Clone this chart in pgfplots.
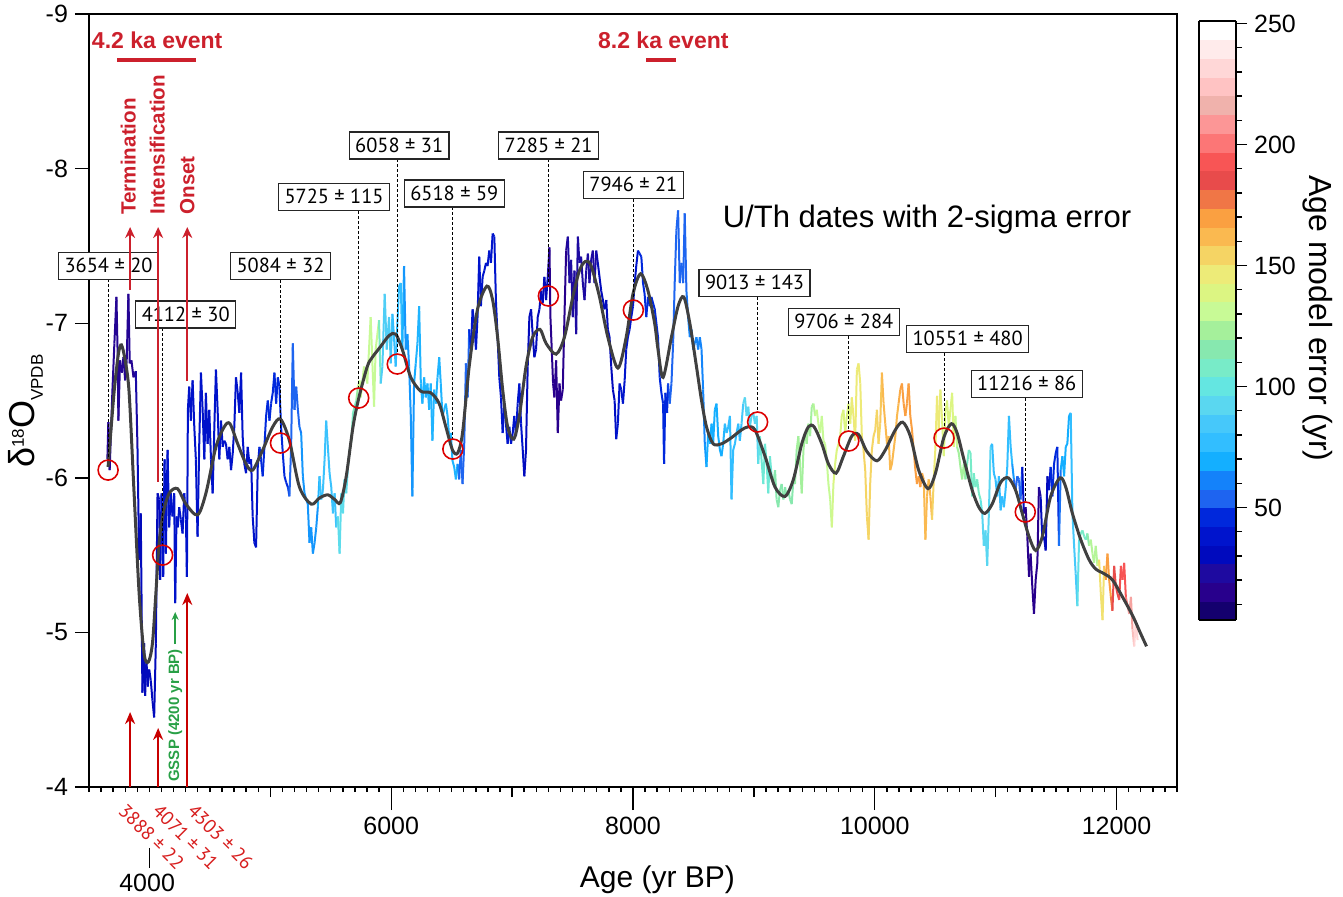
\documentclass[border=0pt]{standalone}
\usepackage{fontspec}
\setmainfont{Liberation Sans}
\newfontfamily\ptsans{PT Sans}
\usepackage{pgfplots}
\pgfplotsset{compat=1.18}
\usetikzlibrary{arrows.meta}

\definecolor{evred}{RGB}{204,32,44}
\definecolor{arrred}{RGB}{200,0,0}
\definecolor{lblred}{RGB}{215,30,30}
\definecolor{circred}{RGB}{220,0,0}
\definecolor{gsspgreen}{RGB}{40,160,70}
\definecolor{smoothgray}{RGB}{64,64,64}

\newcommand\tickfont{\fontsize{12.5}{15}\selectfont}

% age model error colormap, one colour per band of the colour bar
\pgfplotsset{
  colormap={agemodel}{
    rgb255(0cm)=(20,0,110)
    rgb255(0.5cm)=(20,0,110)
    rgb255(1.5cm)=(40,0,140)
    rgb255(2.5cm)=(30,10,160)
    rgb255(3.5cm)=(0,10,190)
    rgb255(4.5cm)=(0,20,205)
    rgb255(5.5cm)=(0,40,220)
    rgb255(6.5cm)=(30,100,240)
    rgb255(7.5cm)=(20,130,250)
    rgb255(8.5cm)=(20,175,255)
    rgb255(9.5cm)=(50,190,255)
    rgb255(10.5cm)=(70,200,250)
    rgb255(11.5cm)=(90,215,240)
    rgb255(12.5cm)=(100,230,225)
    rgb255(13.5cm)=(120,235,200)
    rgb255(14.5cm)=(135,232,175)
    rgb255(15.5cm)=(165,240,155)
    rgb255(16.5cm)=(200,250,150)
    rgb255(17.5cm)=(220,245,130)
    rgb255(18.5cm)=(237,235,120)
    rgb255(19.5cm)=(245,212,100)
    rgb255(20.5cm)=(250,185,80)
    rgb255(21.5cm)=(250,160,65)
    rgb255(22.5cm)=(240,118,70)
    rgb255(23.5cm)=(232,75,75)
    rgb255(24.5cm)=(248,85,85)
    rgb255(25.5cm)=(252,118,118)
    rgb255(26.5cm)=(252,150,150)
    rgb255(27.5cm)=(240,178,172)
    rgb255(28.5cm)=(255,195,195)
    rgb255(29.5cm)=(255,215,215)
    rgb255(30.5cm)=(255,235,235)
    rgb255(31.5cm)=(255,255,255)
    rgb255(32cm)=(255,255,255)
  }
}

\pgfplotstableread{
x y e
3652 -6.12 18
3660 -6.36 18
3671 -6.05 18
3693 -6.55 18
3710 -6.87 18
3727 -7.17 18
3738 -6.76 18
3743 -6.37 18
3757 -6.76 18
3771 -6.68 18
3785 -6.78 18
3799 -6.63 18
3812 -6.76 18
3826 -7.19 18
3837 -6.74 18
3851 -6.76 18
3868 -6.65 18
3887 -6.69 18
3901 -6.20 30
3915 -5.47 30
3928 -5.77 30
3942 -4.61 30
3956 -4.93 30
3964 -4.59 30
3975 -4.82 30
3986 -4.65 30
3998 -4.76 30
4011 -4.69 30
4025 -4.56 30
4039 -4.45 30
4053 -4.93 30
4067 -5.90 30
4080 -5.86 30
4089 -5.34 30
4100 -5.90 37
4114 -5.36 37
4125 -6.12 37
4136 -5.51 37
4150 -6.18 37
4163 -5.68 37
4177 -5.90 37
4191 -5.75 37
4205 -5.90 37
4213 -5.19 37
4224 -5.75 37
4235 -5.68 37
4246 -5.81 37
4260 -5.73 37
4274 -5.64 37
4288 -5.90 37
4302 -5.73 37
4310 -5.36 37
4318 -6.44 37
4329 -6.59 37
4343 -6.37 37
4357 -6.63 37
4371 -6.33 37
4384 -6.12 37
4398 -5.62 37
4412 -6.22 37
4426 -6.68 37
4440 -6.44 37
4454 -6.12 37
4467 -6.55 37
4481 -6.22 37
4495 -6.44 37
4509 -6.12 37
4523 -5.90 37
4537 -6.33 37
4550 -6.70 37
4564 -6.44 37
4578 -6.12 37
4592 -6.37 37
4606 -6.20 37
4619 -6.24 37
4633 -6.22 37
4647 -6.12 37
4661 -6.20 37
4675 -6.05 37
4689 -6.16 37
4702 -6.33 37
4716 -6.65 37
4730 -6.55 37
4744 -6.42 37
4758 -6.68 37
4771 -6.27 37
4785 -6.09 37
4799 -6.03 37
4813 -6.20 37
4827 -6.09 37
4841 -6.12 37
4854 -5.75 37
4868 -5.58 37
4882 -5.55 37
4896 -6.07 37
4910 -6.20 46
4923 -6.12 46
4937 -6.01 46
4951 -6.20 46
4965 -6.40 46
4979 -6.50 46
4993 -6.37 46
5006 -6.48 46
5020 -6.55 46
5034 -6.68 46
5048 -6.48 46
5062 -6.65 46
5075 -6.59 46
5089 -6.33 46
5103 -6.16 46
5117 -6.01 46
5131 -5.97 46
5145 -5.94 46
5158 -5.88 54
5172 -6.20 54
5186 -6.87 54
5200 -6.44 54
5214 -6.59 54
5228 -6.44 54
5241 -6.33 54
5255 -6.29 65
5269 -6.01 65
5283 -5.90 65
5297 -5.86 65
5310 -5.83 65
5324 -5.58 65
5338 -5.68 65
5352 -5.51 65
5366 -5.58 65
5380 -5.68 65
5393 -5.81 65
5407 -6.01 80
5421 -5.86 80
5435 -5.92 80
5449 -6.12 80
5462 -6.37 80
5476 -6.20 80
5490 -6.03 80
5504 -5.94 80
5518 -5.77 80
5532 -5.90 80
5545 -5.68 80
5559 -5.75 95
5573 -5.51 95
5587 -5.90 95
5601 -5.77 95
5614 -5.99 95
5628 -5.90 95
5642 -6.07 95
5656 -6.18 110
5670 -6.24 110
5684 -6.42 110
5711 -6.50 110
5725 -6.59 131
5739 -6.63 131
5747 -6.52 131
5775 -6.72 131
5802 -6.61 131
5830 -7.04 131
5858 -6.46 131
5871 -6.83 131
5899 -7.02 131
5913 -6.61 88
5927 -6.72 88
5946 -7.19 88
5963 -6.83 88
5982 -7.04 88
5996 -6.74 88
6010 -7.06 77
6023 -6.91 77
6037 -6.72 77
6051 -7.00 77
6065 -7.24 77
6079 -7.26 77
6092 -6.83 77
6106 -7.37 65
6120 -6.83 65
6134 -6.93 65
6148 -6.72 65
6162 -6.40 65
6175 -5.88 65
6189 -6.61 65
6203 -6.74 72
6217 -6.87 72
6231 -7.11 72
6245 -6.61 72
6258 -6.48 72
6272 -6.65 72
6286 -6.52 72
6300 -6.61 72
6314 -6.44 72
6327 -6.61 72
6341 -6.24 72
6355 -6.57 72
6369 -6.48 72
6383 -6.65 72
6397 -6.78 72
6410 -6.61 72
6424 -6.40 72
6438 -6.44 72
6452 -6.48 72
6466 -6.40 72
6479 -6.27 72
6493 -6.29 72
6507 -6.11 72
6521 -6.07 72
6535 -5.99 72
6549 -6.09 72
6562 -5.99 54
6576 -6.18 54
6590 -5.96 54
6604 -6.22 54
6618 -6.74 54
6632 -6.52 54
6645 -6.96 54
6659 -6.83 38
6673 -7.09 38
6687 -7.00 38
6701 -6.83 38
6714 -7.04 38
6728 -7.43 38
6742 -7.11 38
6756 -7.30 38
6770 -7.34 38
6784 -7.39 38
6797 -7.37 38
6811 -7.47 38
6825 -7.39 38
6839 -7.58 38
6853 -7.56 38
6866 -7.15 38
6880 -6.91 38
6894 -6.65 38
6908 -6.52 38
6922 -6.29 38
6936 -6.48 38
6949 -6.35 38
6963 -6.22 38
6977 -6.33 38
6991 -6.22 38
7005 -6.29 38
7018 -6.40 38
7032 -6.27 38
7046 -6.48 38
7060 -6.61 38
7074 -6.35 38
7088 -6.18 38
7101 -6.01 30
7115 -6.18 30
7129 -6.72 30
7143 -7.04 30
7157 -7.09 30
7170 -6.93 30
7184 -6.78 30
7198 -6.83 30
7212 -7.04 30
7226 -7.09 30
7240 -7.21 30
7253 -7.13 30
7267 -7.30 30
7281 -7.15 30
7295 -7.30 30
7309 -7.49 15
7317 -7.04 15
7328 -6.83 15
7339 -6.61 15
7350 -6.52 15
7364 -6.76 15
7378 -6.29 15
7392 -6.61 15
7405 -6.50 15
7419 -6.57 15
7433 -7.04 15
7447 -7.47 15
7461 -7.56 23
7475 -7.26 23
7488 -7.41 23
7502 -7.04 23
7516 -7.34 23
7530 -6.93 23
7544 -7.56 23
7557 -7.39 23
7571 -7.43 23
7585 -7.26 23
7599 -7.15 23
7613 -7.34 23
7627 -7.45 23
7640 -7.26 23
7654 -7.41 23
7668 -7.47 23
7682 -7.26 23
7696 -7.47 23
7709 -7.39 30
7723 -7.30 30
7737 -7.21 30
7751 -7.15 30
7765 -7.09 30
7779 -7.15 30
7792 -6.96 30
7806 -6.91 30
7820 -6.72 30
7834 -6.57 30
7848 -6.50 30
7861 -6.25 38
7875 -6.35 38
7889 -6.61 38
7903 -6.57 38
7917 -6.48 38
7931 -6.63 38
7944 -6.83 38
7958 -6.91 38
7972 -6.96 38
7986 -7.04 38
8000 -7.11 38
8014 -7.26 38
8027 -7.37 38
8041 -7.47 38
8055 -7.45 46
8069 -7.43 46
8083 -7.26 46
8096 -7.19 46
8110 -7.04 46
8124 -7.17 46
8138 -7.11 46
8152 -7.17 46
8180 -7.09 46
8207 -6.91 46
8221 -6.65 46
8235 -6.55 46
8249 -6.48 46
8257 -6.09 46
8268 -6.55 46
8282 -6.42 46
8290 -6.61 46
8304 -6.48 54
8318 -6.61 54
8332 -6.87 54
8345 -7.26 54
8359 -7.60 54
8373 -7.73 54
8387 -7.26 54
8401 -7.39 54
8415 -7.26 54
8428 -7.71 54
8442 -7.21 54
8456 -7.04 62
8470 -6.91 62
8484 -6.96 62
8498 -6.83 62
8511 -6.87 62
8525 -6.91 62
8539 -6.83 62
8553 -6.91 62
8567 -6.83 62
8580 -6.57 62
8594 -6.22 62
8608 -6.07 69
8622 -6.29 69
8636 -6.22 69
8650 -6.35 69
8663 -6.22 69
8677 -6.44 69
8691 -6.48 69
8705 -6.27 69
8719 -6.18 69
8732 -6.14 69
8746 -6.22 69
8760 -6.35 77
8774 -6.29 77
8788 -6.33 77
8802 -6.40 77
8815 -5.86 77
8829 -6.18 77
8843 -6.22 77
8857 -6.29 77
8871 -6.35 77
8884 -6.24 77
8898 -6.35 77
8912 -6.48 92
8926 -6.52 92
8940 -6.40 92
8954 -6.46 92
8967 -6.33 92
8981 -6.40 92
8995 -6.42 92
9009 -6.35 92
9023 -6.40 92
9036 -6.09 92
9050 -6.27 104
9064 -6.11 104
9078 -5.96 104
9092 -6.22 104
9106 -6.09 104
9119 -5.90 104
9133 -6.14 104
9147 -6.01 104
9161 -5.96 116
9175 -6.05 116
9188 -5.86 116
9202 -5.81 116
9216 -5.92 116
9230 -5.96 116
9244 -5.86 116
9258 -5.94 116
9271 -5.88 116
9285 -5.92 116
9299 -5.86 116
9313 -5.83 116
9327 -5.99 116
9340 -5.96 116
9354 -6.18 123
9368 -6.27 123
9382 -6.09 123
9396 -5.90 123
9410 -6.18 123
9423 -6.29 123
9437 -6.22 123
9451 -6.35 123
9465 -6.27 123
9479 -6.46 123
9493 -6.48 123
9506 -6.40 131
9520 -6.44 131
9534 -6.35 131
9548 -6.29 131
9562 -6.40 131
9575 -6.24 131
9589 -6.22 131
9603 -6.11 131
9617 -5.96 131
9631 -5.86 131
9645 -5.68 131
9658 -5.96 139
9672 -6.09 139
9686 -6.18 139
9700 -6.22 139
9714 -6.27 139
9727 -6.40 139
9741 -6.44 139
9755 -6.29 139
9769 -6.40 139
9783 -6.48 139
9797 -6.35 139
9810 -6.52 147
9824 -6.40 147
9838 -6.24 147
9852 -6.70 147
9866 -6.74 147
9880 -6.61 147
9893 -6.27 147
9907 -6.18 154
9921 -6.05 154
9935 -5.75 154
9949 -5.60 154
9962 -5.96 154
9976 -6.18 154
9990 -6.27 154
10004 -6.31 154
10018 -6.44 154
10031 -6.22 154
10045 -6.35 154
10059 -6.68 162
10073 -6.48 162
10087 -6.35 162
10101 -6.22 162
10114 -6.27 162
10128 -6.05 162
10142 -6.09 162
10156 -6.18 162
10170 -6.27 162
10184 -6.40 162
10197 -6.48 162
10211 -6.57 170
10225 -6.61 170
10239 -6.48 170
10253 -6.40 170
10266 -6.48 170
10280 -6.61 170
10294 -6.40 170
10308 -6.31 170
10322 -6.18 170
10336 -6.05 170
10349 -5.96 170
10363 -6.01 170
10377 -5.94 170
10391 -6.03 170
10405 -5.99 162
10419 -5.60 162
10432 -5.88 162
10446 -5.99 162
10460 -5.88 162
10474 -5.73 162
10488 -5.99 147
10502 -6.20 147
10515 -6.53 147
10529 -6.31 147
10543 -6.57 147
10557 -6.37 139
10571 -6.14 139
10584 -6.42 139
10598 -6.50 139
10612 -6.33 139
10626 -6.44 139
10640 -6.55 139
10654 -6.20 139
10667 -6.40 139
10681 -6.20 123
10695 -6.16 123
10709 -6.07 123
10723 -5.99 123
10737 -6.09 123
10750 -5.99 123
10764 -6.09 108
10778 -6.18 108
10792 -6.16 108
10806 -5.88 108
10819 -6.03 108
10833 -5.94 108
10847 -5.99 108
10861 -5.90 108
10875 -5.86 108
10889 -5.77 92
10902 -5.56 92
10916 -5.66 92
10930 -5.43 92
10944 -5.77 92
10958 -6.20 92
10971 -6.22 77
10985 -6.03 77
10999 -5.99 77
11013 -5.88 77
11027 -6.01 77
11041 -5.79 77
11054 -5.88 77
11068 -5.81 77
11082 -5.92 77
11096 -6.07 77
11110 -6.40 77
11124 -6.20 77
11137 -6.09 77
11151 -5.99 54
11165 -5.92 54
11179 -6.01 54
11193 -5.99 54
11206 -5.86 54
11220 -6.07 54
11234 -5.77 15
11248 -5.81 15
11262 -5.62 15
11276 -5.36 15
11289 -5.51 15
11303 -5.30 15
11317 -5.12 15
11331 -5.34 15
11345 -5.45 15
11358 -5.94 15
11372 -5.88 30
11386 -5.60 30
11400 -5.62 30
11414 -5.53 30
11428 -6.01 30
11441 -5.92 30
11455 -6.07 46
11469 -5.88 46
11483 -6.09 46
11497 -6.16 46
11510 -6.20 46
11524 -5.56 46
11538 -6.05 69
11552 -6.14 69
11566 -6.01 69
11580 -6.20 69
11593 -6.22 69
11607 -6.40 69
11621 -6.42 69
11635 -5.77 85
11649 -5.56 85
11662 -5.38 85
11676 -5.17 85
11690 -5.60 108
11704 -5.64 108
11718 -5.66 108
11732 -5.62 108
11745 -5.60 108
11759 -5.64 108
11773 -5.56 127
11787 -5.60 127
11801 -5.51 127
11814 -5.45 127
11828 -5.56 127
11842 -5.43 127
11856 -5.47 150
11870 -5.25 150
11884 -5.08 150
11897 -5.43 150
11911 -5.34 170
11925 -5.51 170
11939 -5.34 170
11953 -5.23 170
11966 -5.14 185
11980 -5.43 185
11994 -5.30 185
12008 -5.25 185
12022 -5.21 185
12036 -5.43 193
12049 -5.34 193
12063 -5.45 193
12077 -5.23 193
12091 -5.17 212
12105 -5.12 212
12119 -5.23 212
12132 -5.02 212
12146 -4.91 231
12160 -5.08 231
12174 -4.95 231
}\isodata

\pgfplotstableread{
x y
3658 -6.07
3707 -6.55
3743 -6.80
3768 -6.86
3799 -6.76
3832 -6.55
3873 -5.90
3915 -5.25
3956 -4.86
3992 -4.81
4025 -4.93
4053 -5.25
4080 -5.58
4114 -5.77
4163 -5.90
4232 -5.93
4302 -5.83
4398 -5.76
4467 -5.90
4550 -6.20
4619 -6.33
4666 -6.35
4730 -6.22
4799 -6.09
4854 -6.05
4937 -6.18
5020 -6.33
5084 -6.38
5158 -6.24
5241 -5.94
5338 -5.83
5407 -5.87
5476 -5.89
5532 -5.86
5579 -5.84
5628 -6.01
5684 -6.33
5733 -6.52
5802 -6.72
5844 -6.78
5913 -6.85
5982 -6.92
6037 -6.93
6092 -6.83
6162 -6.65
6245 -6.56
6327 -6.55
6397 -6.48
6452 -6.33
6507 -6.18
6549 -6.16
6590 -6.29
6645 -6.72
6714 -7.09
6792 -7.24
6839 -7.15
6880 -6.91
6922 -6.57
6963 -6.33
7013 -6.25
7060 -6.40
7115 -6.72
7170 -6.91
7231 -6.96
7281 -6.87
7364 -6.80
7433 -6.91
7502 -7.17
7557 -7.34
7607 -7.40
7654 -7.37
7723 -7.17
7792 -6.91
7875 -6.71
7944 -6.91
8000 -7.19
8063 -7.32
8124 -7.21
8179 -7.00
8207 -6.83
8249 -6.65
8318 -6.91
8373 -7.11
8420 -7.17
8470 -7.00
8525 -6.72
8567 -6.50
8608 -6.33
8663 -6.22
8732 -6.22
8815 -6.26
8898 -6.31
8954 -6.33
9009 -6.31
9092 -6.14
9175 -5.94
9258 -5.88
9327 -5.99
9396 -6.22
9451 -6.33
9498 -6.33
9562 -6.22
9617 -6.09
9680 -6.03
9741 -6.14
9810 -6.27
9866 -6.28
9935 -6.17
10018 -6.11
10087 -6.18
10170 -6.31
10231 -6.36
10294 -6.27
10363 -6.05
10441 -5.93
10502 -6.03
10571 -6.26
10634 -6.35
10681 -6.29
10737 -6.12
10806 -5.92
10861 -5.81
10911 -5.77
10971 -5.83
11041 -5.97
11104 -6.00
11165 -5.92
11220 -5.77
11276 -5.62
11331 -5.53
11386 -5.62
11455 -5.88
11533 -6.00
11580 -5.94
11635 -5.77
11704 -5.60
11773 -5.47
11828 -5.41
11897 -5.38
11966 -5.34
12049 -5.23
12132 -5.11
12201 -4.99
12248 -4.91
}\smoothdata

% U/Th dates on the record
\pgfplotstableread{
x y
3658 -6.05
4109 -5.50
5084 -6.225
5731 -6.516
6050 -6.736
6510 -6.186
7300 -7.176
8003 -7.085
9031 -6.361
9785 -6.238
10573 -6.257
11245 -5.779
}\uthdates

\tikzset{
  datebox/.style={draw=black!85, line width=0.7pt, fill=white,
    font=\ptsans\fontsize{10.2}{12}\selectfont,
    inner xsep=3pt, inner ysep=2.5pt, text height=7.5pt, text depth=1pt},
  datelink/.style={black, line width=0.5pt, dash pattern=on 1.5pt off 1pt},
  evtarrow/.style={evred, line width=1pt, -{Stealth[length=5.5pt,width=5pt]}},
  botarrow/.style={arrred, line width=1pt, -{Stealth[length=6pt,width=5pt]}},
  evtlabel/.style={evred, font=\bfseries\fontsize{10.3}{12}\selectfont,
    rotate=90, anchor=west, inner sep=0pt},
  agelabel/.style={lblred, font=\ptsans\fontsize{9.6}{11}\selectfont,
    rotate=-45, anchor=north west, inner sep=0pt},
}

\begin{document}
\begin{tikzpicture}
\path[use as bounding box] (-44.5pt,-54.5pt) rectangle (627pt,393.5pt);

\begin{axis}[
  at={(0,0)}, anchor=south west,
  scale only axis, width=544pt, height=386.5pt,
  xmin=3500, xmax=12500, ymin=-9, ymax=-4, y dir=reverse,
  clip=false,
  axis line style={line width=0.7pt},
  tick pos=left, tick align=outside,
  xtick=\empty,
  ytick={-9,-8,-7,-6,-5,-4},
  major tick length=7pt,
  tick style={line width=0.7pt, black},
  yticklabel style={font=\tickfont},
  /pgf/number format/assume math mode=true,
  colormap name=agemodel,
  point meta min=3.5, point meta max=251,
  colorbar sampled,
  colorbar style={
    at={(parent axis.north east)}, anchor=north west,
    xshift=2.5pt, yshift=-3.5pt,
    scale only axis, width=18.5pt, height=299.5pt,
    samples=33,
    axis line style={line width=1.3pt},
    ytick={50,100,150,200,250},
    minor ytick={10,20,...,240},
    ytick pos=right, yticklabel pos=right,
    tick align=outside,
    major tick length=5.5pt, minor tick length=3pt,
    tick style={line width=0.7pt, black},
    yticklabel style={font=\tickfont},
    /pgf/number format/assume math mode=true,
  },
]

\addplot[mesh, shader=flat, line width=1pt, point meta=explicit]
  table[x=x, y=y, meta=e] {\isodata};

\addplot[smooth, smoothgray, line width=1.5pt] table[x=x, y=y] {\smoothdata};

\addplot[only marks, mark=o, mark size=5pt,
  mark options={draw=circred, line width=0.8pt}] table[x=x, y=y] {\uthdates};

% dotted links from the dates to their boxes
\draw[datelink] (axis cs:3658,-7.286) -- (axis cs:3658,-6.115);
\draw[datelink] (axis cs:4109,-6.969) -- (axis cs:4109,-5.565);
\draw[datelink] (axis cs:5084,-7.279) -- (axis cs:5084,-6.290);
\draw[datelink] (axis cs:5731,-7.726) -- (axis cs:5731,-6.581);
\draw[datelink] (axis cs:6050,-8.062) -- (axis cs:6050,-6.801);
\draw[datelink] (axis cs:6510,-7.752) -- (axis cs:6510,-6.251);
\draw[datelink] (axis cs:7300,-8.062) -- (axis cs:7300,-7.241);
\draw[datelink] (axis cs:8003,-7.803) -- (axis cs:8003,-7.150);
\draw[datelink] (axis cs:9031,-7.169) -- (axis cs:9031,-6.426);
\draw[datelink] (axis cs:9785,-6.917) -- (axis cs:9785,-6.303);
\draw[datelink] (axis cs:10573,-6.807) -- (axis cs:10573,-6.322);
\draw[datelink] (axis cs:11245,-6.516) -- (axis cs:11245,-5.843);

\node[datebox] at (axis cs:3662,-7.370) {3654 ± 20};
\node[datebox] at (axis cs:4300,-7.056) {4112 ± 30};
\node[datebox] at (axis cs:5084,-7.370) {5084 ± 32};
\node[datebox] at (axis cs:5527,-7.816) {5725 ± 115};
\node[datebox] at (axis cs:6066,-8.149) {6058 ± 31};
\node[datebox] at (axis cs:6522,-7.839) {6518 ± 59};
\node[datebox] at (axis cs:7302,-8.149) {7285 ± 21};
\node[datebox] at (axis cs:8003,-7.894) {7946 ± 21};
\node[datebox] at (axis cs:9006,-7.260) {9013 ± 143};
\node[datebox] at (axis cs:9744,-7.008) {9706 ± 284};
\node[datebox] at (axis cs:10768,-6.898) {10551 ± 480};
\node[datebox] at (axis cs:11257,-6.607) {11216 ± 86};

\node[font=\fontsize{15.5}{18}\selectfont] at (axis cs:10432,-7.674) {U/Th dates with 2-sigma error};

% 4.2 and 8.2 ka events
\node[evred, font=\bfseries\fontsize{11.5}{14}\selectfont] at (axis cs:4064,-8.832) {4.2 ka event};
\draw[evred, line width=2pt] (axis cs:3732,-8.7025) -- (axis cs:4387,-8.7025);
\node[evred, font=\bfseries\fontsize{11.5}{14}\selectfont] at (axis cs:8251,-8.832) {8.2 ka event};
\draw[evred, line width=2pt] (axis cs:8110,-8.7025) -- (axis cs:8359,-8.7025);

\draw[evtarrow] (axis cs:3840,-7.215) -- (axis cs:3840,-7.622);
\draw[evtarrow] (axis cs:4072,-5.973) -- (axis cs:4072,-7.622);
\draw[evtarrow] (axis cs:4313,-6.626) -- (axis cs:4313,-7.622);
\node[evtlabel] at (axis cs:3825,-7.70) {Termination};
\node[evtlabel] at (axis cs:4064,-7.70) {Intensification};
\node[evtlabel] at (axis cs:4313,-7.70) {Onset};

\draw[botarrow] (axis cs:3840,-4) -- (axis cs:3840,-4.485);
\draw[botarrow] (axis cs:4072,-4) -- (axis cs:4072,-4.382);
\draw[botarrow] (axis cs:4313,-4) -- (axis cs:4313,-5.255);

\node[gsspgreen, font=\bfseries\fontsize{7.5}{9}\selectfont, rotate=90, anchor=west, inner sep=0pt]
  at (axis cs:4213,-4.032) {GSSP (4200 yr BP)};
\draw[gsspgreen, line width=0.8pt, -{Stealth[length=4pt,width=3.5pt]}]
  (axis cs:4213,-4.925) -- (axis cs:4213,-5.132);

\node[agelabel] at (axis cs:3815,-3.903) {3888 ± 22};
\node[agelabel] at (axis cs:4097,-3.903) {4071 ± 31};
\node[agelabel] at (axis cs:4387,-3.903) {4303 ± 26};

\draw[black, line width=0.7pt] (axis cs:3998,-3.606) -- (axis cs:3998,-3.476);
\node[font=\tickfont] at (axis cs:3981,-3.379) {4000};

\node[font=\fontsize{15}{18}\selectfont] at (axis cs:8202,-3.398) {Age (yr BP)};
\node[rotate=90, anchor=base west, inner sep=0pt, font=\fontsize{18}{20}\selectfont]
  at (axis cs:3052,-6.063)
  {δ\raisebox{5.5pt}{\fontsize{8.5}{10}\selectfont 18}O\raisebox{-4pt}{\fontsize{8.5}{10}\selectfont VPDB}};
\node[rotate=-90, anchor=base west, inner sep=0pt, font=\fontsize{16}{19}\selectfont]
  at (axis cs:13600,-7.959) {Age model error (yr)};
\end{axis}

% medium and minor ticks on the age axis
\begin{axis}[
  at={(0,0)}, anchor=south west,
  scale only axis, width=544pt, height=386.5pt,
  xmin=3500, xmax=12500, ymin=0, ymax=1,
  hide y axis, axis x line*=bottom, x axis line style={draw=none},
  scaled x ticks=false,
  tick align=outside,
  xtick={5000,7000,9000,11000}, xticklabels={},
  minor xtick={3500,3600,...,12500},
  major tick length=5pt, minor tick length=2.5pt,
  tick style={line width=0.7pt, black},
]
\end{axis}

% long labelled ticks on the age axis
\begin{axis}[
  at={(0,0)}, anchor=south west,
  scale only axis, width=544pt, height=386.5pt,
  xmin=3500, xmax=12500, ymin=0, ymax=1,
  hide y axis, axis x line*=bottom, x axis line style={draw=none},
  scaled x ticks=false,
  tick align=outside,
  xtick={6000,8000,10000,12000},
  major tick length=11.5pt,
  tick style={line width=0.7pt, black},
  xticklabel style={font=\tickfont},
  /pgf/number format/1000 sep={},
  /pgf/number format/assume math mode=true,
]
\end{axis}
\end{tikzpicture}
\end{document}
